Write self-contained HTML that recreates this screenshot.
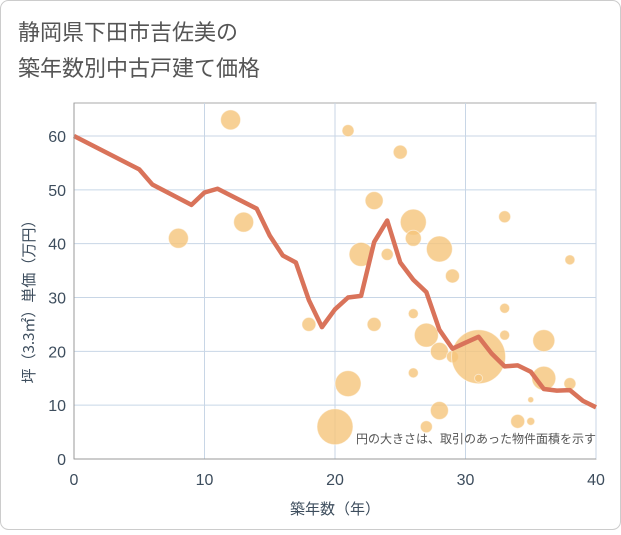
<!DOCTYPE html>
<html><head><meta charset="utf-8"><style>
body{margin:0;background:#fff}
#c{width:621px;height:530px;position:relative;font-family:"Liberation Sans","Noto Sans CJK JP",sans-serif}
</style></head><body>
<div id="c">
<svg id="s" width="621" height="530" xmlns="http://www.w3.org/2000/svg">
<rect x="0.5" y="0.5" width="620" height="529" rx="8" fill="#fff" stroke="#ccc"/>
<text x="18" y="40" font-size="22" fill="#555" font-family="Noto Sans CJK JP, sans-serif">静岡県下田市吉佐美の</text>
<text x="18" y="76" font-size="22" fill="#555" font-family="Noto Sans CJK JP, sans-serif">築年数別中古戸建て価格</text>
<g id="grid"></g><g id="bub"></g><g id="ln"></g><g id="ax"></g>
<text x="596" y="443" font-size="12" fill="#555" text-anchor="end" font-family="Noto Sans CJK JP, sans-serif">円の大きさは、取引のあった物件面積を示す</text>
<text x="335" y="514" font-size="15" fill="#3d4d5d" text-anchor="middle" font-family="Noto Sans CJK JP, sans-serif">築年数（年）</text>
<text transform="translate(34,298) rotate(-90)" font-size="15" fill="#3d4d5d" text-anchor="middle" font-family="Noto Sans CJK JP, sans-serif">坪（3.3㎡）単価（万円）</text>
</svg></div>
<script>
const xTicks=[0,10,20,30,40];
const yTicks=[0,10,20,30,40,50,60];
const lineX=[0,5,6,9,10,11,14,15,16,17,18,19,20,21,22,23,24,25,26,27,28,29,30,31,32,33,34,35,36,37,38,39,40];
const lineY=[60,53.8,51,47.2,49.5,50.2,46.5,41.5,37.8,36.5,29.5,24.5,27.8,30,30.3,40.3,44.3,36.5,33.3,31,24,20.5,21.6,22.7,19.6,17.2,17.4,16.2,13,12.7,12.8,10.8,9.6];
const bubX=[8,12,13,18,20,21,21,22,23,23,24,25,26,26,26,26,27,27,28,28,28,29,29,31,31,33,33,33,34,35,35,36,36,38,38];
const bubY=[41,63,44,25,6,61,14,38,48,25,38,57,44,41,27,16,23,6,39,20,9,34,19,19,15,45,28,23,7,11,7,22,15,37,14];
const bubR=[10,10,10,7,18,6,13,12,9,7,6,7,13,8,5,5,12,6,13,9,9,7,6,27,4,6,5,5,7,3,4,11,12,5,6];
const X0=74,X1=596,Y0=459,Y1=136;
const sx=v=>X0+(X1-X0)*v/40, sy=v=>Y0-(Y0-Y1)*v/60;
const NS="http://www.w3.org/2000/svg";
function mk(t,a,p){const e=document.createElementNS(NS,t);for(const k in a)e.setAttribute(k,a[k]);p.appendChild(e);return e;}
const g=document.getElementById('grid'),ax=document.getElementById('ax');
mk('rect',{x:X0,y:103,width:X1-X0,height:Y0-103,fill:'none',stroke:'#aaa'},g);
xTicks.forEach(v=>{const l=mk('line',{x1:sx(v),x2:sx(v),y1:103,y2:Y0,stroke:'#c8d6e6'},g);


const t=mk('text',{x:sx(v),y:485,'font-size':16,fill:'#3d4d5d','text-anchor':'middle'},ax);t.textContent=v;

});
yTicks.forEach(v=>{const l=mk('line',{x1:X0,x2:X1,y1:sy(v),y2:sy(v),stroke:'#c8d6e6'},g);


const t=mk('text',{x:66,y:sy(v)+6,'font-size':16,fill:'#3d4d5d','text-anchor':'end'},ax);t.textContent=v;

});
mk('line',{x1:X0,x2:X1,y1:Y0,y2:Y0,stroke:'#999'},ax);
mk('line',{x1:X0,x2:X0,y1:103,y2:Y0,stroke:'#999'},ax);
const b=document.getElementById('bub');
bubX.forEach((v,i)=>{const c=mk('circle',{cx:sx(v),cy:sy(bubY[i]),r:bubR[i],fill:'#f5c47a','fill-opacity':0.8,stroke:'#fff','stroke-opacity':0.5},b);

});
const p=mk('polyline',{points:lineX.map((v,i)=>sx(v)+','+sy(lineY[i])).join(' '),fill:'none',stroke:'#d9735a','stroke-width':4.5,'stroke-linejoin':'round'},document.getElementById('ln'));


</script>
</body></html>
